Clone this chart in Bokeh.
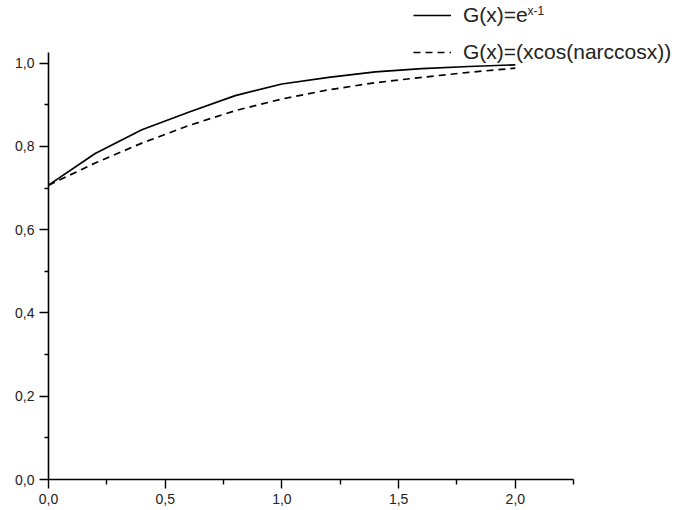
from bokeh.plotting import figure
from bokeh.models import (Range1d, FixedTicker, CustomJSTickFormatter, Legend,
                          LegendItem, Label)
from bokeh.embed import file_html
from bokeh.resources import INLINE

# ---- data ----
x_vals = [0.0, 0.2, 0.4, 0.6, 0.8, 1.0, 1.2, 1.4, 1.6, 1.8, 2.0]
g_exp = [0.707, 0.783, 0.840, 0.882, 0.922, 0.950, 0.966, 0.979, 0.987, 0.992, 0.996]
g_cos = [0.707, 0.760, 0.808, 0.850, 0.886, 0.914, 0.936, 0.953, 0.966, 0.978, 0.988]

x_ticks = [0.0, 0.5, 1.0, 1.5, 2.0]
x_tick_labels = ["0,0", "0,5", "1,0", "1,5", "2,0"]
x_minor = [0.25, 0.75, 1.25, 1.75, 2.25]
y_ticks = [0.0, 0.2, 0.4, 0.6, 0.8, 1.0]
y_tick_labels = ["0,0", "0,2", "0,4", "0,6", "0,8", "1,0"]
y_minor = [0.1, 0.3, 0.5, 0.7, 0.9]
x_axis_end = 2.25
y_axis_end = 1.026

label_exp = "G(x)=e"
label_exp_sup = "x-1"
label_cos = "G(x)=(xcos(narccosx))"

FONT = "Liberation Sans"

# frame spans the whole area above/right of the axes; axis lines are bounded
p = figure(width=678, height=510, output_backend="svg", toolbar_location=None,
           x_range=Range1d(0, 2.699), y_range=Range1d(0, 1.1505),
           min_border_left=48, min_border_right=0, min_border_top=0,
           min_border_bottom=31)
p.outline_line_color = None
p.grid.visible = False
p.background_fill_color = "white"
p.border_fill_color = "white"

r1 = p.line(x_vals, g_exp, line_color="black", line_width=1.7)
r2 = p.line(x_vals, g_cos, line_color="black", line_width=1.7, line_dash="7 5")

fmt_code = """
const i = tvals.findIndex(t => Math.abs(t - tick) < 1e-9);
return i >= 0 ? tlabels[i] : '';
"""
p.xaxis.ticker = FixedTicker(ticks=x_ticks, minor_ticks=x_minor)
p.xaxis.formatter = CustomJSTickFormatter(args=dict(tvals=x_ticks, tlabels=x_tick_labels), code=fmt_code)
p.yaxis.ticker = FixedTicker(ticks=y_ticks, minor_ticks=y_minor)
p.yaxis.formatter = CustomJSTickFormatter(args=dict(tvals=y_ticks, tlabels=y_tick_labels), code=fmt_code)
p.xaxis.bounds = (0, x_axis_end)
p.yaxis.bounds = (0, y_axis_end)

for ax in (p.xaxis, p.yaxis):
    ax.axis_line_color = "black"
    ax.axis_line_width = 1.6
    ax.major_tick_line_color = "black"
    ax.major_tick_line_width = 1.4
    ax.minor_tick_line_color = "black"
    ax.minor_tick_line_width = 1.4
    ax.major_tick_in = 0
    ax.minor_tick_in = 0
    ax.major_label_text_font = FONT
    ax.major_label_text_font_size = "14px"
    ax.major_label_text_color = "#222222"

p.xaxis.major_tick_out = 9
p.xaxis.minor_tick_out = 5
p.xaxis.major_label_standoff = 5
p.yaxis.major_tick_out = 9
p.yaxis.minor_tick_out = 4
p.yaxis.major_label_standoff = 5

legend = Legend(items=[LegendItem(label=label_exp, renderers=[r1]),
                       LegendItem(label=label_cos, renderers=[r2])],
                location=(365, 415), orientation="vertical")
legend.border_line_color = None
legend.background_fill_alpha = 0
legend.padding = 0
legend.margin = 0
legend.spacing = 13
legend.glyph_width = 38
legend.glyph_height = 20
legend.label_height = 20
legend.label_standoff = 12
legend.label_text_font = FONT
legend.label_text_font_size = "21px"
legend.label_text_color = "#222222"
p.add_layout(legend, "center")

sup = Label(x=479, y=476, x_units="screen", y_units="screen", text=label_exp_sup,
            text_font=FONT, text_font_size="12px", text_color="#222222",
            text_baseline="top")
p.add_layout(sup)

open("out.html", "w").write(file_html(p, INLINE))
